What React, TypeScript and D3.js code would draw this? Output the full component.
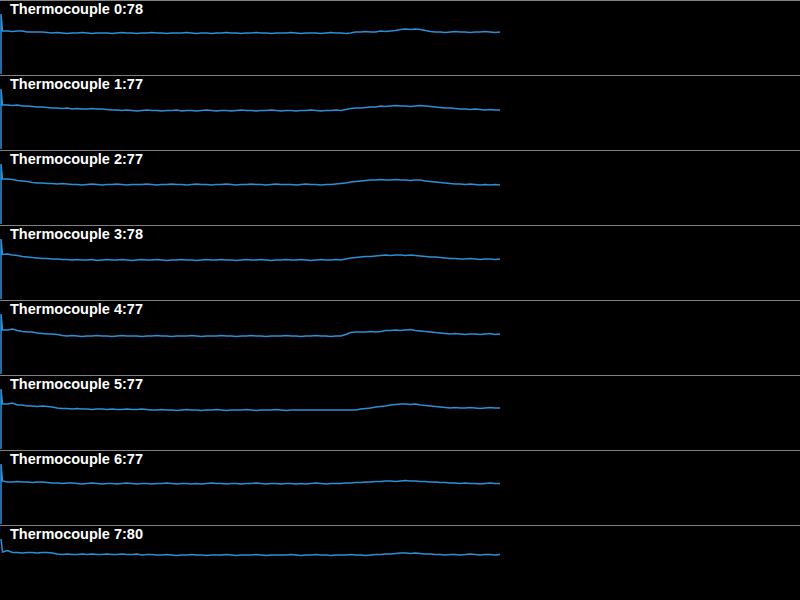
import React, { useEffect, useRef } from 'react'
import * as d3 from 'd3'

const labels = ['Thermocouple 0', 'Thermocouple 1', 'Thermocouple 2', 'Thermocouple 3', 'Thermocouple 4', 'Thermocouple 5', 'Thermocouple 6', 'Thermocouple 7']
const readings = [78, 77, 77, 78, 77, 77, 77, 80]

// first samples logged at power-up, drawn at the left edge
const startup = [[0, 120], [0, 120], [0, 120], [0, 120], [0, 120], [0, 120], [0, 120], [120]]

const tc0 = [86, 86, 85, 86, 86, 84, 84, 84, 84, 83,
  82, 83, 82, 81, 82, 82, 83, 82, 81, 82, 82, 82, 81, 82, 83, 82, 82, 81, 82, 82,
  83, 82, 82, 81, 82, 82, 82, 83, 82, 81, 82, 82, 81, 82, 82, 83, 82, 82, 81, 82,
  82, 83, 82, 82, 81, 82, 82, 82, 83, 82, 81, 82, 82, 82, 81, 82, 83, 82, 82, 81, 82,
  84, 84, 85, 84, 84, 86, 85, 86, 87, 89, 90, 89, 90, 89, 87, 85,
  84, 84, 83, 84, 85, 84, 84, 83, 84, 84, 85, 84, 83, 84]
const tc1 = [88, 88, 87, 88, 86, 86, 85, 84, 84,
  83, 82, 82, 81, 82, 80, 81, 80, 80, 81, 80, 80,
  79, 78, 78, 77, 78, 77, 76, 77, 78, 77, 77, 76, 77, 77, 78, 76, 77, 77, 76, 77,
  78, 77, 76, 77, 77, 76, 77, 78, 77, 77, 76, 77, 77, 78, 77, 76, 77, 77, 76, 77,
  77, 78, 77, 76, 77, 77, 78, 77,
  79, 81, 82, 82, 83, 84, 84, 86, 85, 86, 87, 86, 86, 85, 86, 87, 86, 85,
  84, 83, 82, 82, 81, 80, 80, 79, 80, 79, 78, 79, 78, 78]
const tc2 = [90, 90, 89, 87, 86, 85, 83, 82, 82, 81, 81, 80, 81,
  80, 79, 79, 78, 79, 80, 79, 78, 79, 79, 80, 79, 78, 79, 79, 79, 80, 79, 78, 79,
  79, 80, 79, 79, 78, 79, 80, 79, 79, 78, 79, 79, 80, 79, 78, 79, 79, 80, 79, 79,
  78, 79, 80, 79, 79, 79, 78, 79, 80, 79, 79, 78, 79, 79, 80,
  81, 82, 84, 85, 86, 87, 88, 88, 89, 88, 88, 89, 88, 88, 87, 88, 88,
  86, 85, 84, 83, 82, 81, 80, 80, 79, 80, 79, 78, 79, 78, 79, 78]
const tc3 = [89, 90, 88, 87, 85, 84, 83, 82, 81, 81, 80, 80, 79,
  79, 78, 79, 78, 78, 79, 77, 78, 79, 78, 78, 79, 78, 77, 78, 79, 78, 78, 79, 78,
  77, 78, 78, 79, 78, 78, 77, 78, 79, 78, 78, 79, 78, 78, 77, 78, 79, 78, 78, 79,
  78, 77, 78, 78, 79, 78, 78, 79, 78, 77, 78, 79, 78, 78, 79, 78,
  80, 82, 83, 84, 85, 85, 86, 87, 88, 87, 88, 88, 87, 88, 87, 86,
  85, 84, 84, 83, 82, 81, 81, 80, 80, 81, 80, 79, 80, 80, 79, 80]
const tc4 = [88, 88, 90, 87, 85, 84, 84, 82, 81, 80, 80, 79,
  77, 76, 77, 76, 75, 76, 76, 77, 76, 76, 75, 76, 77, 76, 76, 76, 75, 76, 76, 77,
  76, 76, 75, 76, 76, 76, 77, 76, 75, 76, 76, 76, 77, 76, 76, 75, 76, 76, 77, 76,
  76, 75, 76, 76, 76, 77, 76, 76, 75, 76, 76, 77, 76, 76, 75, 76, 76,
  79, 83, 84, 84, 84, 85, 84, 85, 87, 87, 88, 87, 88, 89, 87, 86, 85, 84, 83, 82, 81,
  80, 81, 80, 79, 80, 80, 79, 80, 81, 79, 80]
const tc5 = [90, 90, 92, 88, 88, 86, 86, 85, 86, 85, 84,
  82, 81, 81, 80, 81, 80, 80, 79, 80, 80, 79, 80, 79, 79, 80, 79, 79, 80, 79, 78,
  78, 79, 78, 78, 77, 78, 79, 78, 78, 77, 78, 78, 79, 78, 77, 78, 78, 78, 79, 78,
  77, 78, 78, 78, 79, 78, 77, 78, 78,
  78, 78, 78, 78, 78, 78, 78, 78, 78, 78, 78, 78,
  80, 81, 82, 84, 85, 86, 88, 89, 90, 90, 89, 90, 88, 87, 86, 85,
  84, 83, 82, 83, 82, 82, 83, 82, 81, 82, 83, 82, 82]
const tc6 = [86, 84, 84, 85, 84, 84, 83, 84, 84,
  83, 82, 82, 81, 82, 82, 81, 80, 81, 82, 81, 80, 81, 81, 80, 81, 82, 81, 80, 81,
  81, 80, 81, 81, 82, 81, 80, 81, 81, 80, 81, 80, 81, 82, 81, 81, 80, 81, 81, 80,
  81, 81, 82, 81, 80, 81, 81, 80, 81, 81, 80, 81, 80, 81, 82, 81, 80, 81, 81,
  81, 82, 82, 83, 83, 84, 84, 85, 85, 86, 86, 85, 86, 87, 86, 86, 85, 85,
  84, 84, 83, 83, 82, 82, 81, 82, 81, 81, 80, 81, 82, 81, 81]
const tc7 = [94, 97, 93, 93, 92, 93, 93, 92, 93, 93, 92,
  90, 89, 90, 89, 89, 90, 89, 90, 89, 89, 90, 89, 89, 90, 89, 89, 90, 88, 89, 89,
  88, 88, 89, 88, 87, 88, 88, 89, 88, 88, 87, 88, 88, 88, 89, 88, 87, 88, 88, 88,
  89, 88, 87, 88, 88, 88, 88, 89, 88, 87, 88, 88, 89, 88, 88, 87, 88, 88, 88, 89,
  88, 88, 87, 88, 89, 89,
  90, 90, 91, 92, 92, 91, 92, 91, 90, 90,
  89, 89, 88, 89, 89, 88, 89, 90, 89, 88, 89, 89, 88, 89]

const series = [tc0, tc1, tc2, tc3, tc4, tc5, tc6, tc7]

const App = () => {
  const svgRef = useRef(null)

  useEffect(() => {
    const width = 800
    const height = 600
    const panelH = 75

    const svg = d3.select(svgRef.current)
    svg.selectAll('*').remove()
    svg.attr('width', width).attr('height', height)

    svg.append('rect').attr('width', width).attr('height', height).attr('fill', '#000')

    // trace runs over the left 500px, startup samples sit at the edge
    const x = d3.scaleLinear().domain([0, 100]).range([2.5, 500])
    const x0 = 1

    series.forEach((values, k) => {
      const top = k * panelH
      const y = d3.scaleLinear().domain([0, 120]).range([top + 74, top + 14])
      const g = svg.append('g')

      g.append('line')
        .attr('x1', 0).attr('x2', width)
        .attr('y1', top + 0.5).attr('y2', top + 0.5)
        .attr('stroke', '#808080')
        .attr('stroke-width', 1)

      const pts = startup[k].map(v => [x0, y(v)])
        .concat(values.map((v, i) => [x(i), y(v)]))

      g.append('path')
        .attr('d', d3.line()(pts))
        .attr('fill', 'none')
        .attr('stroke', '#2b8fd8')
        .attr('stroke-width', 1.5)

      g.append('text')
        .attr('x', 10)
        .attr('y', top + 14)
        .attr('fill', '#fff')
        .style('font-family', '"Liberation Sans", Arial, sans-serif')
        .style('font-weight', 'bold')
        .style('font-size', '14.5px')
        .text(`${labels[k]}:${readings[k]}`)
    })
  }, [])

  return (
    <svg ref={svgRef} style={{ position: 'absolute', left: 0, top: 0, display: 'block' }}></svg>
  )
}

export default App
